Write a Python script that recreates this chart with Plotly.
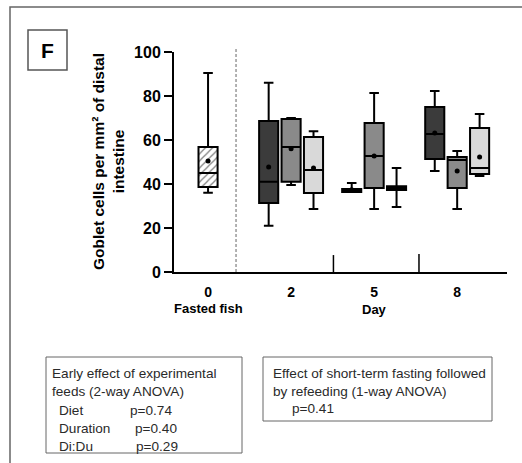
import plotly.graph_objects as go

# Group layout: fasted fish at 0, then days 2, 5, 8 with three feeds each
day_labels = ["0", "2", "5", "8"]
group_pos = [0, 1, 2, 3]
feed_offsets = [-0.27, 0.0, 0.27]
feed_colors = ["#3b3b3b", "#8a8a8a", "#d9d9d9"]

# Fasted fish summary statistics
fasted_stats = dict(lowerfence=36.0, q1=38.6, median=45.0, q3=56.8, upperfence=90.5, mean=50.5)

# Refed fish, per day (rows: day 2, 5, 8; columns: three feeds)
lowerfence = [[21.0, 39.5, 28.6], [36.4, 28.6, 29.5], [45.9, 28.6, 43.6]]
q1 = [[31.4, 41.0, 35.9], [36.4, 38.2, 37.3], [51.4, 38.2, 44.5]]
median = [[41.0, 56.8, 46.4], [37.0, 52.7, 38.2], [62.7, 50.9, 47.3]]
q3 = [[68.6, 69.5, 61.4], [37.7, 67.7, 39.0], [75.0, 52.3, 65.5]]
upperfence = [[86.0, 70.0, 64.0], [40.5, 81.4, 47.3], [82.3, 55.0, 71.8]]
means = [[47.7, 56.0, 47.3], [37.4, 52.7, 38.0], [63.2, 45.9, 52.3]]

BOX_W = 0.23
FONT = "Liberation Sans, Arial, sans-serif"

fig = go.Figure()

# Hatched fill for the fasted box
fig.add_trace(go.Bar(
    x=[group_pos[0]], y=[fasted_stats["q3"] - fasted_stats["q1"]], base=[fasted_stats["q1"]],
    width=BOX_W,
    marker=dict(color="white", line=dict(width=0),
                pattern=dict(shape="/", fgcolor="black", bgcolor="white", size=5, solidity=0.25)),
    showlegend=False, hoverinfo="skip",
))
fig.add_trace(go.Box(
    x=[group_pos[0]], q1=[fasted_stats["q1"]], median=[fasted_stats["median"]], q3=[fasted_stats["q3"]],
    lowerfence=[fasted_stats["lowerfence"]], upperfence=[fasted_stats["upperfence"]],
    width=BOX_W, whiskerwidth=0.5, fillcolor="rgba(0,0,0,0)",
    line=dict(color="black", width=2), showlegend=False,
))
fig.add_trace(go.Scatter(
    x=[group_pos[0]], y=[fasted_stats["mean"]], mode="markers",
    marker=dict(color="black", size=5), showlegend=False,
))

for d in range(3):
    for f in range(3):
        xpos = group_pos[d + 1] + feed_offsets[f]
        fig.add_trace(go.Box(
            x=[xpos], q1=[q1[d][f]], median=[median[d][f]], q3=[q3[d][f]],
            lowerfence=[lowerfence[d][f]], upperfence=[upperfence[d][f]],
            width=BOX_W, whiskerwidth=0.5, fillcolor=feed_colors[f],
            line=dict(color="black", width=2), showlegend=False,
        ))
        fig.add_trace(go.Scatter(
            x=[xpos], y=[means[d][f]], mode="markers",
            marker=dict(color="black", size=5), showlegend=False,
        ))

# Plot area in pixels
W, H = 522, 463
L, R, T, B = 174, 507, 52, 272


def px(x):
    return (x - L) / (R - L)


def py(y):
    return (B - y) / (B - T)


shapes = [
    # outer panel frame
    dict(type="rect", xref="paper", yref="paper", x0=px(10), x1=px(540), y0=py(7), y1=py(480),
         line=dict(color="#666666", width=1.5)),
    # panel letter box
    dict(type="rect", xref="paper", yref="paper", x0=px(28), x1=px(67), y0=py(30), y1=py(70),
         line=dict(color="#555555", width=1.5)),
    # separator between fasted fish and refed days
    dict(type="line", xref="x", yref="paper", x0=0.337, x1=0.337, y0=0, y1=py(47),
         line=dict(color="#666666", width=1, dash="3px,2px")),
    # short day separators
    dict(type="line", xref="x", yref="y", x0=1.51, x1=1.51, y0=0, y1=7.7,
         line=dict(color="black", width=1.5)),
    dict(type="line", xref="x", yref="y", x0=2.54, x1=2.54, y0=0, y1=8.2,
         line=dict(color="black", width=1.5)),
    # statistics boxes
    dict(type="rect", xref="paper", yref="paper", x0=px(46), x1=px(242), y0=py(357), y1=py(453),
         line=dict(color="#666666", width=1)),
    dict(type="rect", xref="paper", yref="paper", x0=px(263), x1=px(492), y0=py(357), y1=py(421),
         line=dict(color="#666666", width=1)),
]

ann_font = dict(family=FONT, size=13.6, color="#2a2a2a")
annotations = [
    dict(text="F", x=px(47.5), y=py(50), xref="paper", yref="paper", showarrow=False,
         xanchor="center", yanchor="middle",
         font=dict(family=FONT, size=21, color="black", weight="bold")),
    dict(text="Goblet cells per mm² of distal<br>intestine", x=px(108), y=py(162),
         xref="paper", yref="paper", showarrow=False, textangle=-90,
         xanchor="center", yanchor="middle",
         font=dict(family=FONT, size=15.5, color="black", weight="bold")),
    dict(text="Fasted fish", x=0, y=py(308), xref="x", yref="paper", showarrow=False,
         xanchor="center", yanchor="middle",
         font=dict(family=FONT, size=13, color="black", weight="bold")),
    dict(text="Day", x=2, y=py(309), xref="x", yref="paper", showarrow=False,
         xanchor="center", yanchor="middle",
         font=dict(family=FONT, size=13, color="black", weight="bold")),
]

stat_lines = [
    ("Early effect of experimental", 50, 373),
    ("feeds (2-way ANOVA)", 50, 391),
    ("Diet", 57, 410),
    ("Duration", 57, 428),
    ("Di:Du", 57, 446),
    ("p=0.74", 128, 410),
    ("p=0.40", 133, 428),
    ("p=0.29", 134, 446),
    ("Effect of short-term fasting followed", 271, 373),
    ("by refeeding (1-way ANOVA)", 271, 391),
    ("p=0.41", 290, 409),
]
for txt, lx, ly in stat_lines:
    annotations.append(dict(text=txt, x=px(lx), y=py(ly), xref="paper", yref="paper",
                            xanchor="left", yanchor="middle", showarrow=False, font=ann_font))

fig.update_layout(
    width=W, height=H,
    margin=dict(l=L, r=W - R, t=T, b=H - B, pad=0),
    plot_bgcolor="white", paper_bgcolor="white",
    showlegend=False,
    shapes=shapes, annotations=annotations,
    xaxis=dict(range=[-0.41, 3.6], tickmode="array", tickvals=group_pos, ticktext=day_labels,
               showline=True, linecolor="black", linewidth=2, ticks="", showgrid=False,
               zeroline=False, automargin=False,
               tickfont=dict(family=FONT, size=14, color="black", weight="bold"),
               ticklabelstandoff=6),
    yaxis=dict(range=[0, 100], tickvals=[0, 20, 40, 60, 80, 100],
               showline=True, linecolor="black", linewidth=2, ticks="outside", ticklen=8,
               tickwidth=2, tickcolor="black", showgrid=False, zeroline=False, automargin=False,
               tickfont=dict(family=FONT, size=16, color="black", weight="bold")),
)

fig.write_html("out.html")
